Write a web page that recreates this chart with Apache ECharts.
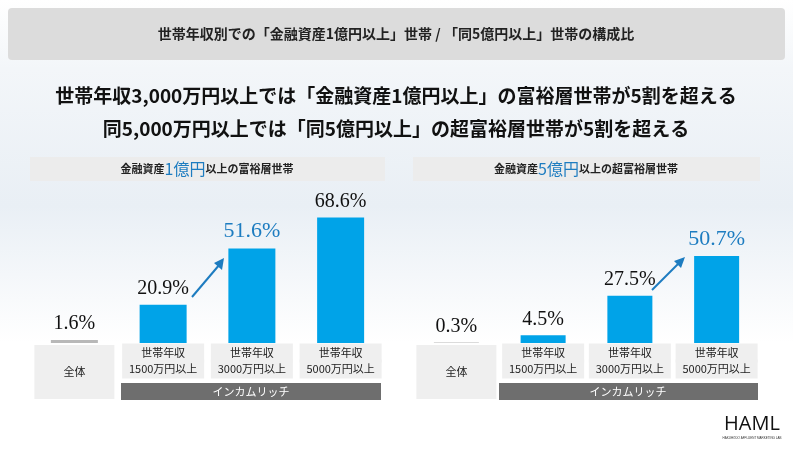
<!DOCTYPE html>
<html><head><meta charset="utf-8">
<script src="https://cdn.jsdelivr.net/npm/echarts@6/dist/echarts.min.js"></script>
<style>html,body{margin:0;padding:0;}#c{width:793px;height:457px;}</style>
</head><body><div id="c"></div>
<script>
const categories = ['全体', '世帯年収\n1500万円以上', '世帯年収\n3000万円以上', '世帯年収\n5000万円以上'];
const wealthyValues = [1.6, 20.9, 51.6, 68.6];      // 金融資産1億円以上
const superWealthyValues = [0.3, 4.5, 27.5, 50.7];  // 金融資産5億円以上
const highlightLeft = 2, highlightRight = 3;

const JP = '"Noto Sans CJK JP", sans-serif';
const SERIF = '"Liberation Serif", "DejaVu Serif", serif';
const BLUE = '#00a3e8', GRAY_BAR = '#b8b8b8', HL = '#1d7cc0';

function barData(vals, hl) {
  return vals.map((v, i) => ({
    value: v,
    itemStyle: { color: i === 0 ? GRAY_BAR : BLUE },
    label: i === hl ? { color: HL, fontSize: 22 } : {}
  }));
}
function xAxisFor(gi) {
  return {
    type: 'category', gridIndex: gi, data: categories,
    axisLine: { show: false }, axisTick: { show: false },
    axisLabel: {
      margin: 2, interval: 0,
      formatter: (v, i) => i === 0 ? '{a|' + v + '}' : '{b|' + v + '}',
      rich: {
        a: { width: 80, height: 54, backgroundColor: '#efefef', align: 'center', verticalAlign: 'middle', fontFamily: JP, fontSize: 11, color: '#222', padding: [0, 0, 0, 0] },
        b: { width: 82, height: 16, lineHeight: 16, backgroundColor: '#efefef', align: 'center', fontFamily: JP, fontSize: 11, color: '#222', padding: [1, 0, 2, 0] }
      }
    }
  };
}
const chart = echarts.init(document.getElementById('c'));
chart.setOption({
  backgroundColor: {
    type: 'linear', x: 0, y: 0, x2: 0, y2: 1,
    colorStops: [{ offset: 0, color: '#ffffff' }, { offset: 0.15, color: '#f3f6f9' }, { offset: 0.45, color: '#e9eff5' }, { offset: 0.75, color: '#ffffff' }, { offset: 1, color: '#ffffff' }]
  },
  animation: false,
  graphic: [
    { type: 'rect', shape: { x: 8, y: 8, width: 777, height: 52, r: 4 }, style: { fill: '#dcdcdc' } },
    { type: 'text', x: 396, y: 34, style: { text: '世帯年収別での「金融資産1億円以上」世帯 / 「同5億円以上」世帯の構成比', font: 'bold 14px ' + JP, fill: '#222', align: 'center', verticalAlign: 'middle' } },
    { type: 'text', x: 396, y: 96, style: { text: '世帯年収3,000万円以上では「金融資産1億円以上」の富裕層世帯が5割を超える', font: 'bold 19px ' + JP, fill: '#111', align: 'center', verticalAlign: 'middle' } },
    { type: 'text', x: 396, y: 129, style: { text: '同5,000万円以上では「同5億円以上」の超富裕層世帯が5割を超える', font: 'bold 19px ' + JP, fill: '#111', align: 'center', verticalAlign: 'middle' } },
    { type: 'rect', shape: { x: 30, y: 157, width: 355, height: 24 }, style: { fill: '#ececec' } },
    { type: 'text', x: 207, y: 169, style: { text: '{a|金融資産}{b|1億円}{a|以上の富裕層世帯}', rich: { a: { font: 'bold 11px ' + JP, fill: '#222' }, b: { font: '16px ' + JP, fill: HL } }, align: 'center', verticalAlign: 'middle' } },
    { type: 'rect', shape: { x: 413, y: 157, width: 347, height: 24 }, style: { fill: '#ececec' } },
    { type: 'text', x: 586, y: 169, style: { text: '{a|金融資産}{b|5億円}{a|以上の超富裕層世帯}', rich: { a: { font: 'bold 11px ' + JP, fill: '#222' }, b: { font: '16px ' + JP, fill: HL } }, align: 'center', verticalAlign: 'middle' } },
    { type: 'rect', shape: { x: 121, y: 383, width: 260, height: 17 }, style: { fill: '#6e6e6e' } },
    { type: 'text', x: 251, y: 392, style: { text: 'インカムリッチ', font: '11px ' + JP, fill: '#fff', align: 'center', verticalAlign: 'middle' } },
    { type: 'rect', shape: { x: 499, y: 383, width: 259, height: 17 }, style: { fill: '#6e6e6e' } },
    { type: 'text', x: 628, y: 392, style: { text: 'インカムリッチ', font: '11px ' + JP, fill: '#fff', align: 'center', verticalAlign: 'middle' } },
    { type: 'line', shape: { x1: 192, y1: 297, x2: 220, y2: 264 }, style: { stroke: HL, lineWidth: 2 } },
    { type: 'polygon', shape: { points: [[224, 258], [214, 263], [222, 270]] }, style: { fill: HL } },
    { type: 'line', shape: { x1: 652, y1: 290, x2: 680, y2: 262 }, style: { stroke: HL, lineWidth: 2 } },
    { type: 'polygon', shape: { points: [[685, 257], [674, 261], [681, 268]] }, style: { fill: HL } },
    { type: 'text', x: 752, y: 424, style: { text: 'HAML', font: '500 20px "Open Sans", sans-serif', fill: '#111', align: 'center', verticalAlign: 'middle' } },
    { type: 'text', x: 752, y: 438, style: { text: 'HAKUHODO AFFLUENT MARKETING LAB', font: '3px sans-serif', fill: '#333', align: 'center', verticalAlign: 'middle' } }
  ],
  grid: [
    { left: 30, width: 355, top: 160, height: 183 },
    { left: 413, width: 347, top: 160, height: 183 }
  ],
  xAxis: [xAxisFor(0), xAxisFor(1)],
  yAxis: [
    { type: 'value', gridIndex: 0, min: 0, max: 100, show: false, splitLine: { show: false } },
    { type: 'value', gridIndex: 1, min: 0, max: 106.6, show: false, splitLine: { show: false } }
  ],
  series: [
    { type: 'bar', xAxisIndex: 0, yAxisIndex: 0, barWidth: 47, data: barData(wealthyValues, highlightLeft),
      label: { show: true, position: 'top', distance: 6, formatter: '{c}%', fontFamily: SERIF, fontSize: 20, color: '#111' } },
    { type: 'bar', xAxisIndex: 1, yAxisIndex: 1, barWidth: 45, data: barData(superWealthyValues, highlightRight),
      label: { show: true, position: 'top', distance: 6, formatter: '{c}%', fontFamily: SERIF, fontSize: 20, color: '#111' } }
  ]
});
</script></body></html>
